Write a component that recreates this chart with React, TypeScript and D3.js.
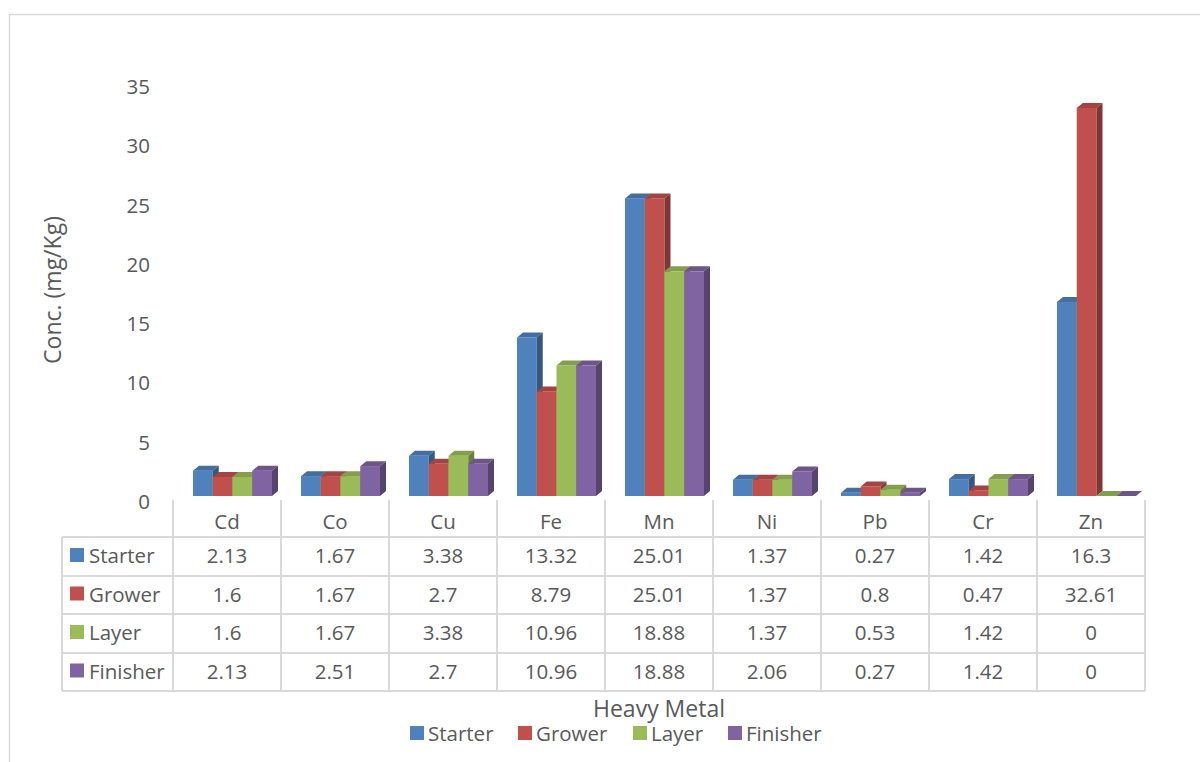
import React from "react";
import * as d3 from "d3";

const categories = ["Cd", "Co", "Cu", "Fe", "Mn", "Ni", "Pb", "Cr", "Zn"];
const seriesNames = ["Starter", "Grower", "Layer", "Finisher"];
const starter = [2.13, 1.67, 3.38, 13.32, 25.01, 1.37, 0.27, 1.42, 16.3];
const grower = [1.6, 1.67, 2.7, 8.79, 25.01, 1.37, 0.8, 0.47, 32.61];
const layer = [1.6, 1.67, 3.38, 10.96, 18.88, 1.37, 0.53, 1.42, 0];
const finisher = [2.13, 2.51, 2.7, 10.96, 18.88, 2.06, 0.27, 1.42, 0];
const yTicks = [0, 5, 10, 15, 20, 25, 30, 35];
const seriesColors = ["#4f81bd", "#c0504d", "#9bbb59", "#8064a2"];

const seriesValues = [starter, grower, layer, finisher];

const FONT = "'Open Sans', 'Noto Sans', sans-serif";
const TXT = "#595959";
const GRID = "#d9d9d9";
const FS = 20.5;
const FS_TITLE = 23;

export default function App() {
  const W = 1200;
  const H = 762;
  const tableLeft = 62;
  const colLeft = 173;
  const colRight = 1145;
  const x = d3.scaleBand<string>().domain(categories).range([colLeft, colRight]);
  const xs = d3.scaleBand<string>().domain(seriesNames).range([20, 99]);
  const y = d3.scaleLinear().domain([0, 35]).range([496, 496 - 35 * 11.9]);
  const yLab = d3.scaleLinear().domain([0, 35]).range([501, 86]);
  const dx = 6;
  const dy = 5;

  const rowEdges = [537, 576, 614, 653, 691];
  const headerTop = 500;

  const bars: JSX.Element[] = [];
  categories.forEach((c, ci) => {
    seriesNames.forEach((s, si) => {
      const v = seriesValues[si][ci];
      const x0 = (x(c) as number) + (xs(s) as number);
      const w = xs.bandwidth();
      const y0 = y(0);
      const y1 = y(v);
      const col = d3.color(seriesColors[si])!;
      const top = col.darker(0.45).formatHex();
      const side = col.darker(1.1).formatHex();
      bars.push(
        <g key={`${c}-${s}`}>
          {v > 0 && (
            <rect x={x0} y={y1} width={w} height={y0 - y1} fill={seriesColors[si]} />
          )}
          <polygon
            points={`${x0},${y1} ${x0 + dx},${y1 - dy} ${x0 + w + dx},${y1 - dy} ${x0 + w},${y1}`}
            fill={top}
          />
          <polygon
            points={`${x0 + w},${y1} ${x0 + w + dx},${y1 - dy} ${x0 + w + dx},${y0 - dy} ${x0 + w},${y0}`}
            fill={side}
          />
        </g>
      );
    });
  });

  const legendItems = [
    { x: 410, tx: 428 },
    { x: 518, tx: 536 },
    { x: 633, tx: 651 },
    { x: 728, tx: 746 },
  ];

  return (
    <svg
      width={W}
      height={H}
      style={{ position: "absolute", left: 0, top: 0, background: "#fff" }}
      fontFamily={FONT}
    >
      <rect x={0} y={0} width={W} height={H} fill="#fff" />
      <rect x={9.5} y={14.5} width={1300} height={900} fill="none" stroke={GRID} strokeWidth={1.5} />

      {/* y tick labels */}
      {yTicks.map((t) => (
        <text
          key={t}
          x={150}
          y={yLab(t)}
          textAnchor="end"
          dominantBaseline="central"
          fontSize={FS}
          fill={TXT}
        >
          {t}
        </text>
      ))}

      {/* y axis title */}
      <text
        transform={`translate(52,290) rotate(-90)`}
        textAnchor="middle"
        dominantBaseline="central"
        fontSize={FS_TITLE}
        fill={TXT}
      >
        Conc. (mg/Kg)
      </text>

      {bars}

      {/* data table */}
      <g stroke={GRID} strokeWidth={2} fill="none">
        {categories.map((c) => (
          <line key={c} x1={x(c)} x2={x(c)} y1={headerTop} y2={rowEdges[4]} />
        ))}
        <line x1={colRight} x2={colRight} y1={headerTop} y2={rowEdges[4]} />
        <line x1={tableLeft} x2={tableLeft} y1={rowEdges[0]} y2={rowEdges[4]} />
        {rowEdges.map((r) => (
          <line key={r} x1={tableLeft} x2={colRight} y1={r} y2={r} />
        ))}
      </g>
      {categories.map((c) => (
        <text
          key={c}
          x={(x(c) as number) + x.bandwidth() / 2}
          y={521}
          textAnchor="middle"
          dominantBaseline="central"
          fontSize={FS}
          fill={TXT}
        >
          {c}
        </text>
      ))}
      {seriesNames.map((s, si) => {
        const cy = (rowEdges[si] + rowEdges[si + 1]) / 2 - 1.5;
        return (
          <g key={s}>
            <rect x={70} y={cy - 7} width={14} height={14} fill={seriesColors[si]} />
            <text x={89} y={cy} dominantBaseline="central" fontSize={FS} fill={TXT}>
              {s}
            </text>
            {categories.map((c, ci) => (
              <text
                key={c}
                x={(x(c) as number) + x.bandwidth() / 2}
                y={cy}
                textAnchor="middle"
                dominantBaseline="central"
                fontSize={FS}
                fill={TXT}
              >
                {String(seriesValues[si][ci])}
              </text>
            ))}
          </g>
        );
      })}

      {/* x axis title */}
      <text x={659} y={708} textAnchor="middle" dominantBaseline="central" fontSize={FS_TITLE} fill={TXT}>
        Heavy Metal
      </text>

      {/* legend */}
      {seriesNames.map((s, si) => (
        <g key={s}>
          <rect x={legendItems[si].x} y={726} width={14} height={14} fill={seriesColors[si]} />
          <text x={legendItems[si].tx} y={733} dominantBaseline="central" fontSize={FS} fill={TXT}>
            {s}
          </text>
        </g>
      ))}
    </svg>
  );
}
